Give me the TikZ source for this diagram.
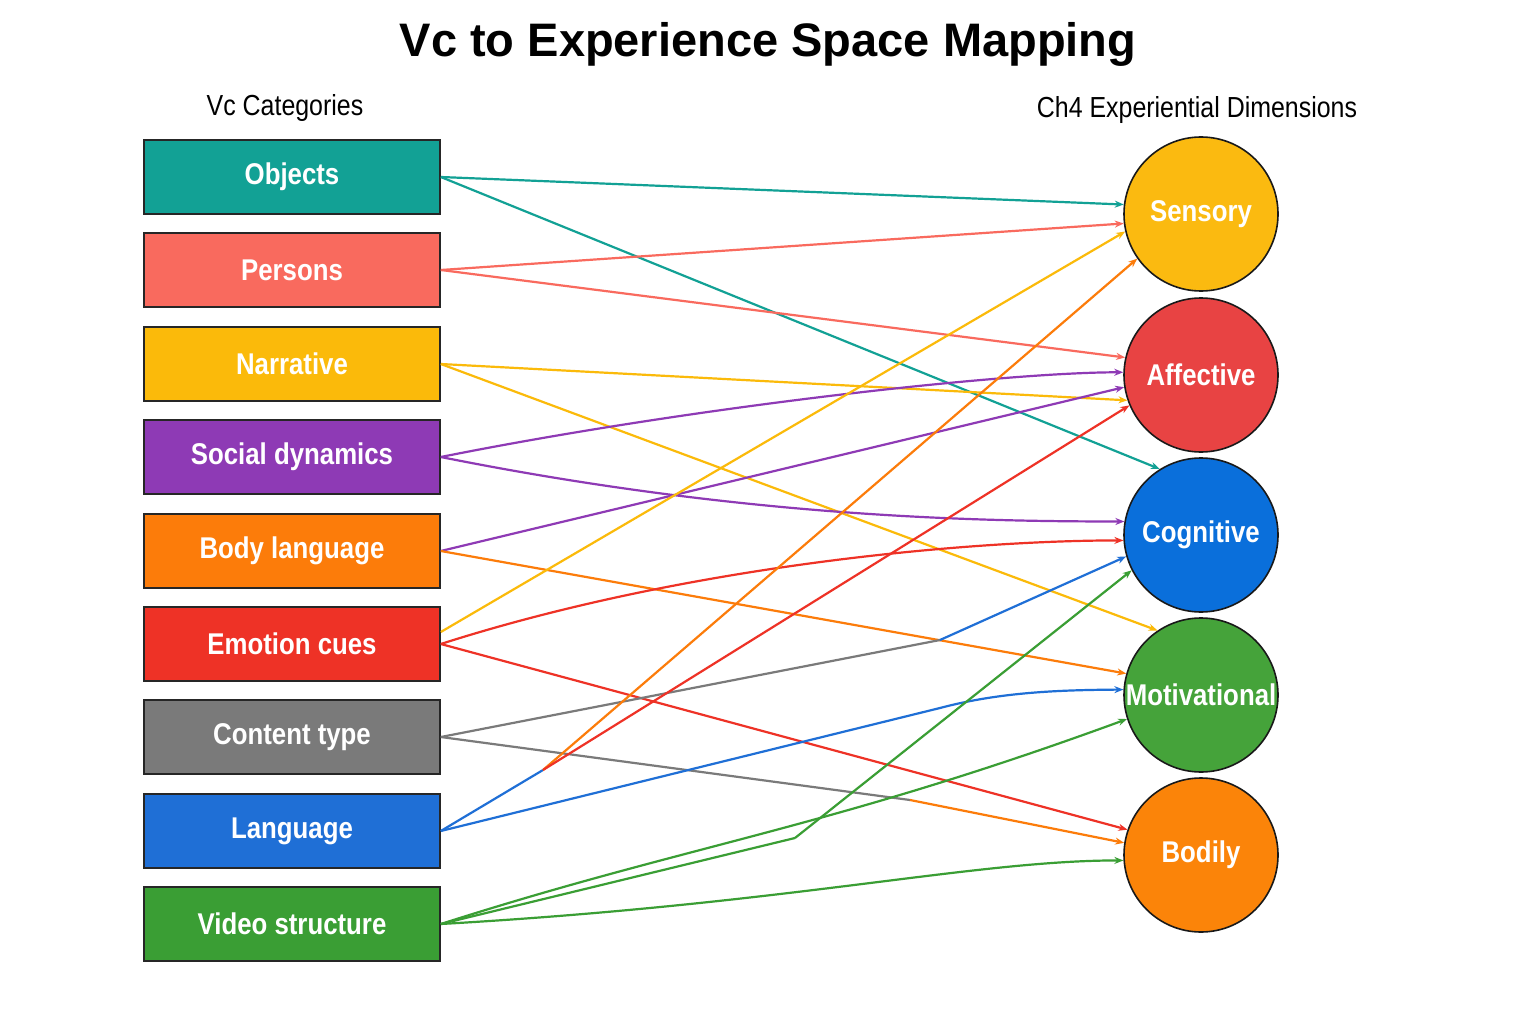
\documentclass[tikz,border=0pt]{standalone}
\usepackage{fontspec}
\setmainfont{Liberation Sans}
\usetikzlibrary{arrows.meta}
\definecolor{cteal}{HTML}{12A195}
\definecolor{csalmon}{HTML}{F96A5E}
\definecolor{cyellow}{HTML}{FBBA0A}
\definecolor{cpurple}{HTML}{8E3AB5}
\definecolor{corange}{HTML}{FC7C0A}
\definecolor{cred}{HTML}{EE3226}
\definecolor{cgray}{HTML}{7A7A7A}
\definecolor{cblue}{HTML}{1F6FD6}
\definecolor{cgreen}{HTML}{3A9E34}
\definecolor{kS}{HTML}{FBBA10}
\definecolor{kA}{HTML}{E84343}
\definecolor{kC}{HTML}{0A6FDB}
\definecolor{kM}{HTML}{45A33A}
\definecolor{kB}{HTML}{FB8409}
\newcommand{\lbl}[1]{\scalebox{0.86}[1]{#1}}
\begin{document}
\begin{tikzpicture}[x=1pt,y=-1pt,
  cat/.style={draw=black!85,line width=1.6pt,minimum width=296pt,minimum height=74pt,text=white,font=\fontsize{30}{34}\selectfont\bfseries},
  dim/.style={circle,draw=black!90,line width=1.6pt,minimum size=154pt,inner sep=0pt,text=white,font=\fontsize{30}{34}\selectfont\bfseries},
  lk/.style={line width=2.2pt,-{Stealth[length=9pt,width=7pt]}},
  pl/.style={line width=2.2pt}]
\useasboundingbox[fill=white] (0,0) rectangle (1536,1024);
\node[font=\fontsize{47}{52}\selectfont\bfseries] (title) at (768,44) {Vc to Experience Space Mapping};
\node[font=\fontsize{29}{32}\selectfont] (lh) at (285,108) {\lbl{Vc Categories}};
\node[font=\fontsize{29}{32}\selectfont] (rh) at (1197,110) {\lbl{Ch4 Experiential Dimensions}};

\node[cat,fill=cteal] (o) at (292,177) {\lbl{Objects}};
\node[cat,fill=csalmon] (p) at (292,270) {\lbl{Persons}};
\node[cat,fill=cyellow] (n) at (292,364) {\lbl{Narrative}};
\node[cat,fill=cpurple] (s) at (292,457) {\lbl{Social dynamics}};
\node[cat,fill=corange] (b) at (292,551) {\lbl{Body language}};
\node[cat,fill=cred] (e) at (292,644) {\lbl{Emotion cues}};
\node[cat,fill=cgray] (c) at (292,737) {\lbl{Content type}};
\node[cat,fill=cblue] (l) at (292,831) {\lbl{Language}};
\node[cat,fill=cgreen] (v) at (292,924) {\lbl{Video structure}};

\node[dim,fill=kS] (S) at (1201,214) {\lbl{Sensory}};
\node[dim,fill=kA] (A) at (1201,375) {\lbl{Affective}};
\node[dim,fill=kC] (C) at (1201,535) {\lbl{Cognitive}};
\node[dim,fill=kM] (M) at (1201,695) {\lbl{Motivational}};
\node[dim,fill=kB] (B) at (1201,855) {\lbl{Bodily}};

\coordinate (j) at (543,770);
\coordinate (c1) at (940,640);
\coordinate (c2) at (910,800);
\coordinate (c3) at (795,838);

% Objects
\draw[lk,cteal] (o.east) -- (S.173);
\draw[lk,cteal] (o.east) -- (C.122);
% Persons
\draw[lk,csalmon] (p.east) -- (S.187);
\draw[lk,csalmon] (p.east) -- (A.167);
% Narrative
\draw[lk,cyellow] (n.east) -- (A.199);
\draw[lk,cyellow] (n.east) -- (M.124);
% Social
\draw[lk,cpurple] (s.east) .. controls +(250,-50) and +(-120,0) .. (A.178);
\draw[lk,cpurple] (s.east) .. controls +(300,60) and +(-150,0) .. (C.170);
% Body language
\draw[lk,cpurple] (b.east) -- (A.189);
\draw[lk,corange] (b.east) -- (M.164);
% Emotion cues
\draw[lk,cyellow] ([yshift=12pt]e.east) -- (S.193);
\draw[lk,cred] (e.east) .. controls +(250,-80) and +(-150,0) .. (C.184);
\draw[lk,cred] (e.east) -- (B.161);
% Content type
\draw[pl,cgray] (c.east) -- (c1);
\draw[lk,cblue] (c1) -- (C.196);
\draw[pl,cgray] (c.east) -- (c2);
\draw[lk,corange] (c2) -- (B.171);
% Language
\draw[pl,cblue] (l.east) -- (j);
\draw[lk,corange] (j) -- (S.215);
\draw[lk,cred] (j) -- (A.203);
\draw[lk,cblue] (l.east) -- (940,708) .. controls (1000,692) and (1060,690) .. (M.176);
% Video structure
\draw[pl,cgreen] (v.east) -- (c3);
\draw[lk,cgreen] (c3) -- (C.207);
\draw[lk,cgreen] (v.east) .. controls +(250,-80) and +(-300,110) .. (M.198);
\draw[lk,cgreen] (v.east) .. controls +(350,-20) and +(-150,0) .. (B.184);
\end{tikzpicture}
\end{document}
